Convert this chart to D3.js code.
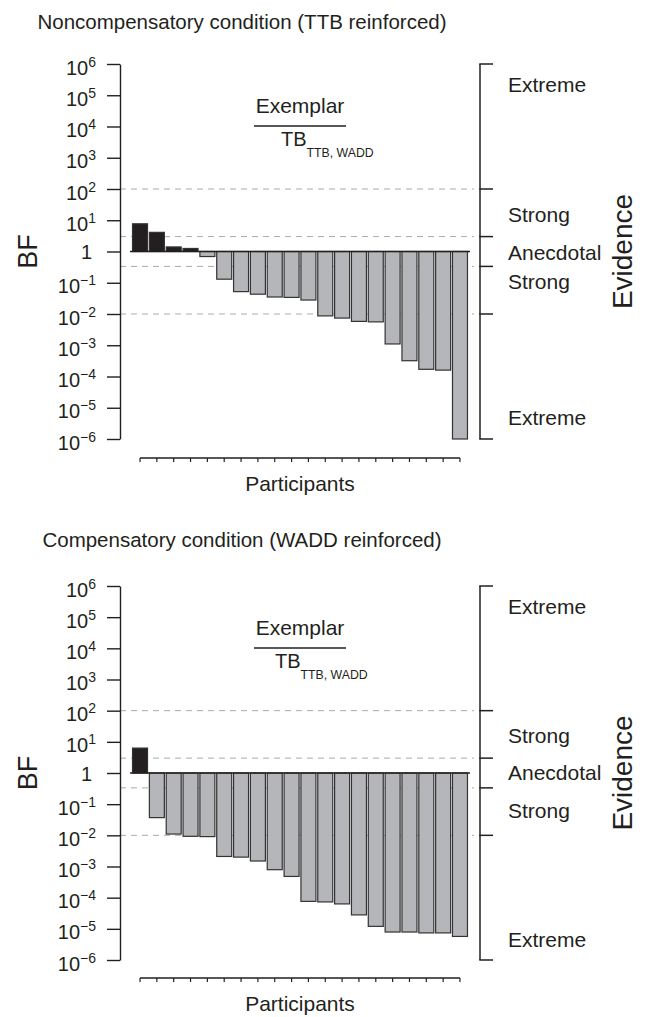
<!DOCTYPE html>
<html>
<head>
<meta charset="utf-8">
<script src="https://cdn.jsdelivr.net/npm/d3@7"></script>
<style>
  body { margin: 0; background: #fff; }
  svg text { font-family: "Liberation Sans", Arial, Helvetica, sans-serif; fill: #231f20; }
</style>
</head>
<body>
<svg id="chart" width="646" height="1017"></svg>
<script>
// data --------------------------------------------------------------
const participants = d3.range(1, 21);

// BF per participant, noncompensatory condition (sorted)
const bfNoncomp = [7.7, 4.1, 1.4, 1.25, 0.69, 0.13, 0.052, 0.043, 0.035, 0.034,
  0.028, 0.0087, 0.0074, 0.0058, 0.0056, 0.0011, 0.00032, 0.00017, 0.00016, 0.000001];

// BF per participant, compensatory condition (sorted)
const bfComp = [6.3, 0.037, 0.011, 0.0093, 0.0091, 0.0021, 0.0020, 0.0015, 0.00079, 0.00048,
  0.000076, 0.000073, 0.000063, 0.000028, 0.000012, 0.0000079, 0.0000079, 0.0000074, 0.0000074, 0.0000057];

const titles = ["Noncompensatory condition (TTB reinforced)", "Compensatory condition (WADD reinforced)"];

const yTicks = d3.range(-6, 7).map(e => Math.pow(10, e));
const thresholds = [100, 3, 1 / 3, 0.01];          // dashed lines
const bracketTicks = [1e6, 100, 3, 1 / 3, 0.01, 1e-6];
const evidenceLabels = ["Extreme", "Strong", "Anecdotal", "Strong", "Extreme"];

// layout -------------------------------------------------------------
const svg = d3.select("#chart");
const axisX = 120, bracketX = 480;
const dark = "#231f20", grey = "#b5b6b9";

const panels = [
  { values: bfNoncomp, title: titles[0], top: 64, bottom: 439, axisY: 458, titleY: 29, tbX: 281,
    labelAt: [5.33, 1.17, -0.03, -0.96, -5.33] },
  { values: bfComp, title: titles[1], top: 586, bottom: 960, axisY: 978, titleY: 547, tbX: 275,
    labelAt: [5.34, 1.21, 0, -1.2, -5.35] }
];

const x = d3.scaleBand()
  .domain(participants)
  .range([131.6, 468.4])
  .paddingInner(0.11)
  .paddingOuter(0.055);

panels.forEach(p => {
  const y = d3.scaleLog().domain([1e-6, 1e6]).range([p.bottom, p.top]);
  const g = svg.append("g");

  // titel
  g.append("text")
    .attr("x", 242).attr("y", p.titleY)
    .attr("text-anchor", "middle")
    .style("font-size", "20.5px")
    .text(p.title);

  // dashed evidence thresholds
  g.selectAll(".thr")
    .data(thresholds)
    .join("line")
      .attr("x1", axisX).attr("x2", 474)
      .attr("y1", d => y(d)).attr("y2", d => y(d))
      .attr("stroke", "#aaa")
      .attr("stroke-width", 1)
      .attr("stroke-dasharray", "6,5");

  // bars
  g.selectAll(".bar")
    .data(p.values)
    .join("rect")
      .attr("x", (d, i) => x(participants[i]))
      .attr("width", x.bandwidth())
      .attr("y", d => Math.min(y(d), y(1)))
      .attr("height", d => Math.abs(y(d) - y(1)))
      .attr("fill", d => d > 1 ? dark : grey)
      .attr("stroke", "#333")
      .attr("stroke-width", 1.2);

  // line at BF = 1
  g.append("line")
    .attr("x1", 130).attr("x2", 470)
    .attr("y1", y(1)).attr("y2", y(1))
    .attr("stroke", dark).attr("stroke-width", 1.3);

  // y axis
  const yAxis = g.append("g")
    .attr("transform", `translate(${axisX},0)`)
    .call(d3.axisLeft(y).tickValues(yTicks).tickSize(13).tickSizeOuter(0).tickPadding(12).tickFormat(""));
  yAxis.select(".domain").attr("stroke", dark).attr("stroke-width", 1.4);
  yAxis.selectAll(".tick line").attr("stroke", dark).attr("stroke-width", 1.4);
  yAxis.selectAll(".tick text").each(function(d) {
    const t = d3.select(this).style("font-size", "20px").attr("fill", dark);
    const e = Math.round(Math.log10(d));
    if (e === 0) {
      t.attr("x", -28).attr("dy", "0.35em").text("1");
    } else {
      t.attr("x", -24).attr("dy", "0.5em");
      t.append("tspan").text("10");
      t.append("tspan").attr("dy", -8).style("font-size", "14px")
        .text(e < 0 ? "\u2212" + (-e) : e);
    }
  });

  // BF label
  g.append("text")
    .attr("transform", `translate(37,${y(1)}) rotate(-90)`)
    .attr("text-anchor", "middle")
    .style("font-size", "27px")
    .text("BF");

  // x axis
  const xAxis = g.append("g")
    .attr("transform", `translate(0,${p.axisY})`)
    .call(d3.axisBottom(x).tickSize(4).tickFormat(""));
  xAxis.select(".domain").remove();
  xAxis.selectAll(".tick line").attr("stroke", dark).attr("stroke-width", 1.2);
  xAxis.append("line")
    .attr("x1", x(participants[0]) + x.bandwidth() / 2)
    .attr("x2", x(participants[participants.length - 1]) + x.bandwidth() / 2)
    .attr("stroke", dark).attr("stroke-width", 1.3);

  g.append("text")
    .attr("x", 300).attr("y", p.axisY + 33)
    .attr("text-anchor", "middle")
    .style("font-size", "21px")
    .text("Participants");

  // fraction Exemplar / TB
  g.append("text")
    .attr("x", 300).attr("y", p.top + 49)
    .attr("text-anchor", "middle")
    .style("font-size", "21px")
    .text("Exemplar");
  g.append("line")
    .attr("x1", 254).attr("x2", 346)
    .attr("y1", p.top + 62).attr("y2", p.top + 62)
    .attr("stroke", dark).attr("stroke-width", 1.5);
  const tb = g.append("text")
    .attr("x", p.tbX).attr("y", p.top + 82)
    .style("font-size", "20px");
  tb.append("tspan").text("TB");
  tb.append("tspan").attr("dy", 11).style("font-size", "12.3px").text("TTB, WADD");

  // evidence bracket
  g.append("line")
    .attr("x1", bracketX).attr("x2", bracketX)
    .attr("y1", y(1e6)).attr("y2", y(1e-6))
    .attr("stroke", dark).attr("stroke-width", 1.5);
  g.selectAll(".bt")
    .data(bracketTicks)
    .join("line")
      .attr("x1", bracketX - 0.75).attr("x2", bracketX + 13)
      .attr("y1", d => y(d)).attr("y2", d => y(d))
      .attr("stroke", dark).attr("stroke-width", 1.5);

  g.selectAll(".evl")
    .data(evidenceLabels)
    .join("text")
      .attr("x", 508)
      .attr("y", (d, i) => y(Math.pow(10, p.labelAt[i])))
      .attr("dy", "0.35em")
      .style("font-size", "21px")
      .text(d => d);

  g.append("text")
    .attr("transform", `translate(632,${y(1)}) rotate(-90)`)
    .attr("text-anchor", "middle")
    .style("font-size", "28px")
    .text("Evidence");
});
</script>
</body>
</html>
